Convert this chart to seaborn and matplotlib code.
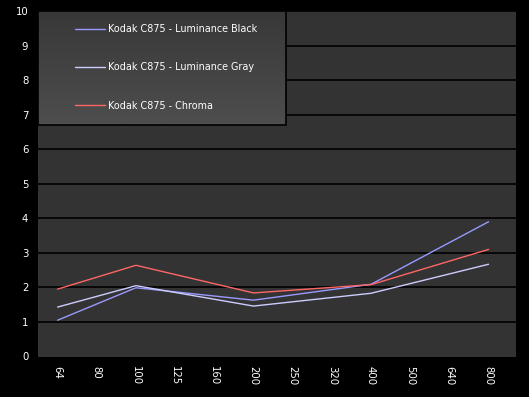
import numpy as np
import pandas as pd
import seaborn as sns
import matplotlib.pyplot as plt

iso_labels = ["64", "80", "100", "125", "160", "200", "250", "320", "400", "500", "640", "800"]
measured_iso = ["64", "100", "200", "400", "800"]
lum_black = [1.05, 1.99, 1.63, 2.09, 3.90]
lum_gray = [1.43, 2.05, 1.46, 1.83, 2.67]
chroma = [1.95, 2.64, 1.84, 2.08, 3.10]

series_names = ["Kodak C875 - Luminance Black", "Kodak C875 - Luminance Gray", "Kodak C875 - Chroma"]
colors = {series_names[0]: "#9999ff", series_names[1]: "#ccccff", series_names[2]: "#ff6666"}

pos = [iso_labels.index(i) for i in measured_iso]
df = pd.concat([
    pd.DataFrame({"pos": pos, "value": vals, "series": name})
    for name, vals in zip(series_names, [lum_black, lum_gray, chroma])
])

sns.set_style("dark")
plt.rcParams['font.family'] = ['DejaVu Sans']

W, H = 529, 397
fig = plt.figure(figsize=(W / 100, H / 100), dpi=100, facecolor="black")
ax = fig.add_axes([38 / W, (H - 356.5) / H, (516 - 38) / W, (356.5 - 11) / H])
ax.set_facecolor("#333333")

ax.set_xlim(-0.5, 11.7)
ax.set_ylim(0, 10)
ax.set_yticks(range(0, 11))
ax.set_xticks(range(len(iso_labels)))
ax.set_xticklabels(iso_labels, rotation=270)
ax.grid(False)
for yv in range(1, 11):
    ax.axhline(yv, color="black", lw=1.2, zorder=1)
for s in ax.spines.values():
    s.set_visible(False)
ax.tick_params(colors="white", labelsize=7.3, length=0, pad=7)
ax.tick_params(axis="x", pad=7)

sns.lineplot(data=df, x="pos", y="value", hue="series", palette=colors,
             linewidth=1, ax=ax, legend=False, zorder=3)
ax.set_xlabel("")
ax.set_ylabel("")

# legend box with vertical gradient (darker at the top)
x0, x1 = (38 - 38) / 478, (285.5 - 38) / 478
y0, y1 = (356.5 - 125) / 345.5, 1.0
grad = np.linspace(0, 1, 100).reshape(-1, 1)
ax.imshow(grad, cmap=sns.blend_palette(["#383838", "#4e4e4e"], as_cmap=True),
          extent=[x0, x1, y0, y1], transform=ax.transAxes, aspect="auto", zorder=4)
ax.add_patch(plt.Rectangle((x0, y0), x1 - x0, y1 - y0, transform=ax.transAxes,
                           fill=False, edgecolor="black", lw=1.2, zorder=5))

handles = [plt.Line2D([], [], color=colors[n], lw=1) for n in series_names]
leg = ax.legend(handles, series_names, loc="upper left",
                bbox_to_anchor=((75 - 38) / 478, (356.5 - 24) / 345.5),
                frameon=False, fontsize=6.9, labelcolor="white",
                handlelength=3.1, handletextpad=0.3, labelspacing=2.95,
                borderpad=0, borderaxespad=0)
leg.set_zorder(6)

fig.savefig("out.png", dpi=100, facecolor="black")
